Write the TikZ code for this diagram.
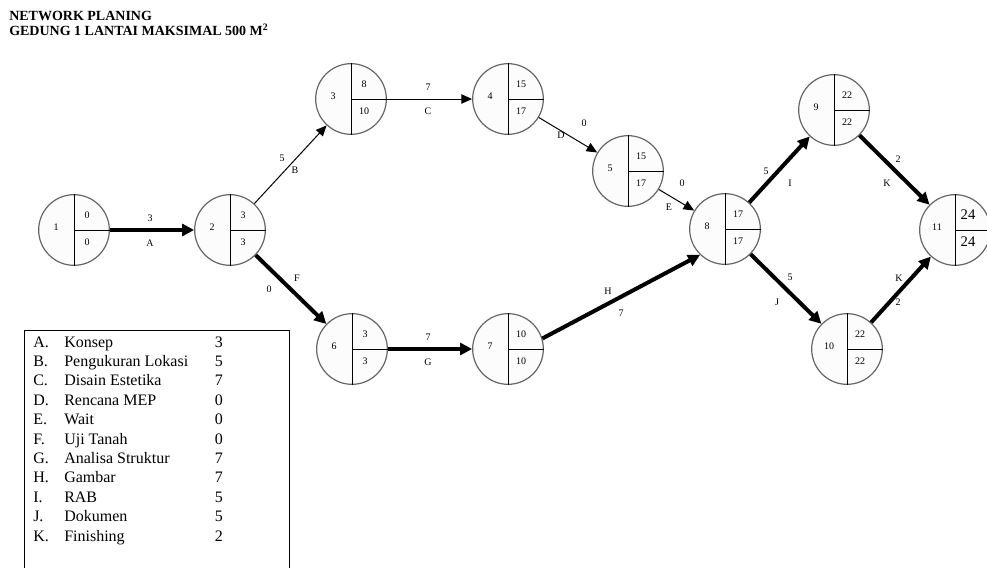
\documentclass[tikz,border=0pt]{standalone}
\usepackage{fontspec}
\setmainfont{Liberation Serif}
\usetikzlibrary{arrows.meta,calc}

\tikzset{
  event/.style={circle,draw=black!60,line width=0.9pt,fill=black!1,minimum size=53pt,inner sep=0pt},
  div/.style={line width=0.75pt},
  num/.style={font=\fontsize{7.5}{9}\selectfont,inner sep=0pt},
  bignum/.style={font=\fontsize{11}{13}\selectfont,inner sep=0pt},
  lbl/.style={font=\fontsize{7.5}{9}\selectfont,inner sep=0pt},
  heading/.style={anchor=north west,align=left,inner sep=0pt,font=\fontsize{10.5}{11.2}\selectfont\bfseries},
  act/.style={line width=0.75pt,-{Triangle[length=8pt,width=7pt]}},
  crit/.style={line width=3pt,-{Triangle[length=9pt,width=9pt]}},
}

% event circle: id, position, top, bottom, style of the two numbers
\newcommand{\eventnode}[5]{%
  \node[event] (e#1) at (#2) {};
  \draw[div] (e#1.north) -- (e#1.south) (e#1.center) -- (e#1.east);
  \node[num] (e#1n) at ($(e#1)+(-18,-3)$) {#1};
  \node[#5] (e#1t) at ($(e#1)+(13,-15)$) {#3};
  \node[#5] (e#1b) at ($(e#1)+(13,12)$) {#4};
}

\begin{document}
\begin{tikzpicture}[x=0.75pt,y=-0.75pt]
    \useasboundingbox (0,0) rectangle (987,568);

    \node[heading] (title) at (9,11) {NETWORK PLANING\\GEDUNG 1 LANTAI MAKSIMAL 500 M\textsuperscript{2}};

    \eventnode{1}{74,230}{0}{0}{num}
    \eventnode{2}{230,230}{3}{3}{num}
    \eventnode{3}{351,99}{8}{10}{num}
    \eventnode{4}{508,99}{15}{17}{num}
    \eventnode{5}{628,171}{15}{17}{num}
    \eventnode{6}{352,349}{3}{3}{num}
    \eventnode{7}{508,349}{10}{10}{num}
    \eventnode{8}{725,229}{17}{17}{num}
    \eventnode{9}{834,110}{22}{22}{num}
    \eventnode{10}{847,349}{22}{22}{num}
    \eventnode{11}{955,230}{24}{24}{bignum}

    \draw[crit] (e1) -- (e2);
    \draw[act] (e2) -- (e3);
    \draw[act] (e3) -- (e4);
    \draw[act] (e4) -- (e5);
    \draw[act] (e5) -- (e8);
    \draw[crit] (e2) -- (e6);
    \draw[crit] (e6) -- (e7);
    \draw[crit] (e7.17) -- (e8.226);
    \draw[crit] (e8) -- (e9);
    \draw[crit] (e8) -- (e10);
    \draw[crit] (e9) -- (e11);
    \draw[crit] (e10) -- (e11);

    \node[lbl] (dA) at (150,218) {3};
    \node[lbl] (aA) at (150,243) {A};
    \node[lbl] (dB) at (282,158) {5};
    \node[lbl] (aB) at (295,170) {B};
    \node[lbl] (dC) at (428,87) {7};
    \node[lbl] (aC) at (428,111) {C};
    \node[lbl] (dD) at (584,123) {0};
    \node[lbl] (aD) at (561,135) {D};
    \node[lbl] (dE) at (682,183) {0};
    \node[lbl] (aE) at (669,207) {E};
    \node[lbl] (aF) at (297,278) {F};
    \node[lbl] (dF) at (269,289) {0};
    \node[lbl] (dG) at (428,337) {7};
    \node[lbl] (aG) at (428,362) {G};
    \node[lbl] (aH) at (608,291) {H};
    \node[lbl] (dH) at (621,313) {7};
    \node[lbl] (dI) at (766,171) {5};
    \node[lbl] (aI) at (790,183) {I};
    \node[lbl] (dJ) at (790,277) {5};
    \node[lbl] (aJ) at (777,302) {J};
    \node[lbl] (dK1) at (898,159) {2};
    \node[lbl] (aK1) at (887,183) {K};
    \node[lbl] (aK2) at (899,278) {K};
    \node[lbl] (dK2) at (898,302) {2};

    % legend
    \draw[line width=0.75pt] (24,568) -- (24,330) -- (289,330) -- (289,568);
    \node[anchor=base west,inner sep=0pt,font=\fontsize{12}{14.55}\selectfont] (key) at (33,347) {%
      \setlength{\tabcolsep}{0pt}%
      \begin{tabular}[t]{@{}p{23.25pt}p{113pt}l@{}}
        A. & Konsep & 3\\
        B. & Pengukuran Lokasi & 5\\
        C. & Disain Estetika & 7\\
        D. & Rencana MEP & 0\\
        E. & Wait & 0\\
        F. & Uji Tanah & 0\\
        G. & Analisa Struktur & 7\\
        H. & Gambar & 7\\
        I. & RAB & 5\\
        J. & Dokumen & 5\\
        K. & Finishing & 2
      \end{tabular}};
\end{tikzpicture}
\end{document}
